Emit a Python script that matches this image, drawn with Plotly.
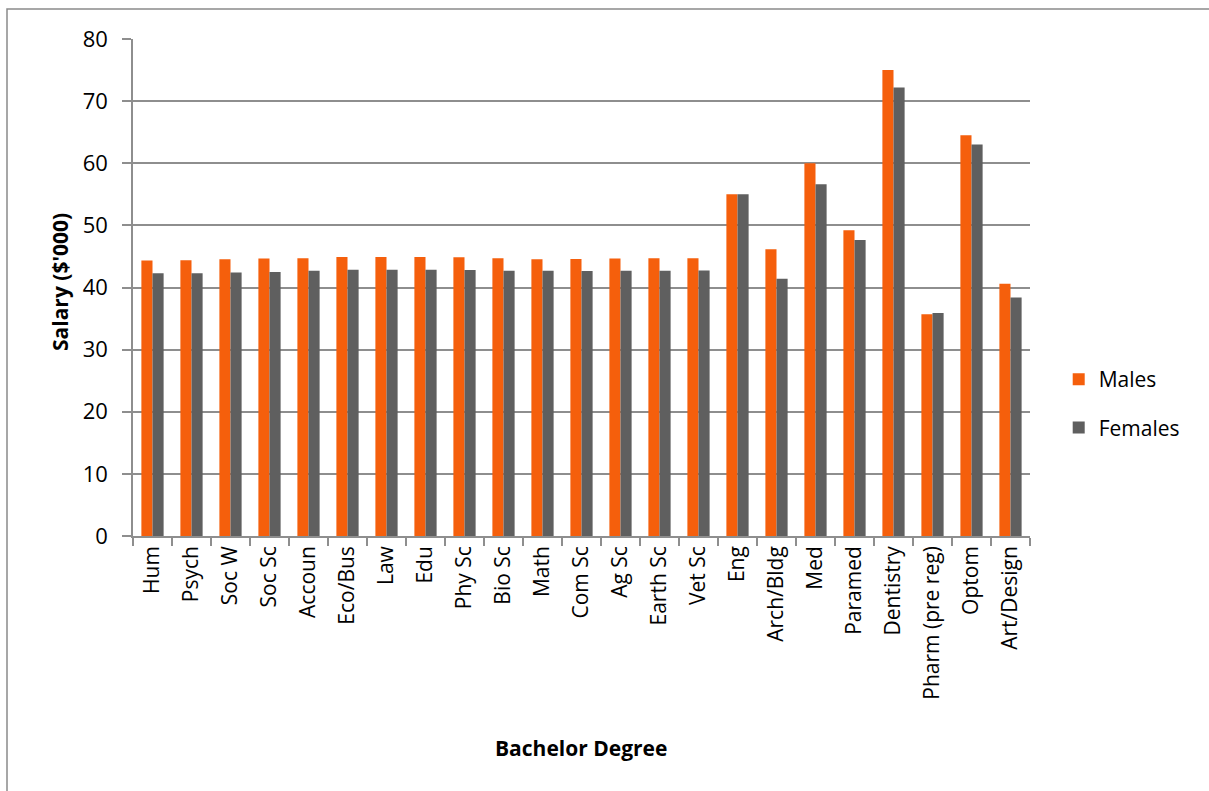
import plotly.graph_objects as go

degrees = ["Hum", "Psych", "Soc W", "Soc Sc", "Accoun", "Eco/Bus", "Law", "Edu",
           "Phy Sc", "Bio Sc", "Math", "Com Sc", "Ag Sc", "Earth Sc", "Vet Sc",
           "Eng", "Arch/Bldg", "Med", "Paramed", "Dentistry", "Pharm (pre reg)",
           "Optom", "Art/Design"]

males = [44.35, 44.4, 44.55, 44.65, 44.7, 44.9, 44.9, 44.9,
         44.85, 44.7, 44.55, 44.6, 44.65, 44.7, 44.7,
         55.0, 46.15, 60.0, 49.2, 75.0, 35.7, 64.5, 40.6]

females = [42.3, 42.3, 42.4, 42.5, 42.7, 42.85, 42.85, 42.85,
           42.8, 42.7, 42.7, 42.65, 42.7, 42.7, 42.75,
           55.0, 41.4, 56.6, 47.65, 72.2, 35.9, 63.0, 38.4]

y_ticks = [0, 10, 20, 30, 40, 50, 60, 70, 80]

FONT = "Open Sans"
ORANGE = "#F55F0C"
GREY = "#5F5F5F"
GRID = "#8E8E8E"

fig = go.Figure()
fig.add_trace(go.Bar(x=degrees, y=males, name="Males", marker_color=ORANGE,
                     marker_line_width=0, legendgroup="m"))
fig.add_trace(go.Bar(x=degrees, y=females, name="Females", marker_color=GREY,
                     marker_line_width=0, legendgroup="f"))

W, H = 1209, 791
L, R, T, B = 133, 179, 39, 255
pw, ph = W - L - R, H - T - B

fig.update_layout(
    width=W, height=H,
    margin=dict(l=L, r=R, t=T, b=B, pad=0),
    paper_bgcolor="white", plot_bgcolor="white",
    barmode="group", bargap=0.43, bargroupgap=0.0,
    font=dict(family=FONT, color="#000000"),
    legend=dict(x=1.032, y=(536 - 403.5) / ph, xanchor="left", yanchor="middle",
                font=dict(family=FONT, size=21, color="#000"),
                tracegroupgap=18, itemsizing="constant",
                bgcolor="rgba(0,0,0,0)"),
    showlegend=True,
)

fig.update_xaxes(
    type="category",
    tickangle=-90,
    tickfont=dict(family=FONT, size=21, color="#000"),
    ticks="outside", ticklen=8, tickcolor=GRID, tickwidth=1.5,
    tickson="boundaries",
    showline=True, linecolor=GRID, linewidth=1.5,
    showgrid=False,
    title=None,
    automargin=False,
)

fig.update_yaxes(
    range=[0, 80],
    tickvals=y_ticks,
    tickfont=dict(family=FONT, size=22, color="#000"),
    ticks="outside", ticklen=9, tickcolor=GRID, tickwidth=1.5,
    ticklabelstandoff=10,
    showline=True, linecolor=GRID, linewidth=1.5,
    showgrid=True, gridcolor=GRID, gridwidth=1.5,
    zeroline=False,
    title=None,
    automargin=False,
)

# axis titles
fig.add_annotation(text="<b>Bachelor Degree</b>", xref="paper", yref="paper",
                   x=(581 - L) / pw, y=-(748 - (T + ph)) / ph,
                   xanchor="center", yanchor="middle", showarrow=False,
                   font=dict(family=FONT, size=21, color="#000"))
fig.add_annotation(text="<b>Salary ($'000)</b>", xref="paper", yref="paper",
                   x=(60 - L) / pw, y=(T + ph - 282) / ph, textangle=-90,
                   xanchor="center", yanchor="middle", showarrow=False,
                   font=dict(family=FONT, size=21, color="#000"))

# chart-area border
fig.add_shape(type="rect", xref="paper", yref="paper",
              x0=(7 - L) / pw, x1=(1215 - L) / pw,
              y0=-(800 - (T + ph)) / ph, y1=1 + (T - 9) / ph,
              line=dict(color="#8A8A8A", width=1.5), layer="below")

fig.write_html("out.html")
